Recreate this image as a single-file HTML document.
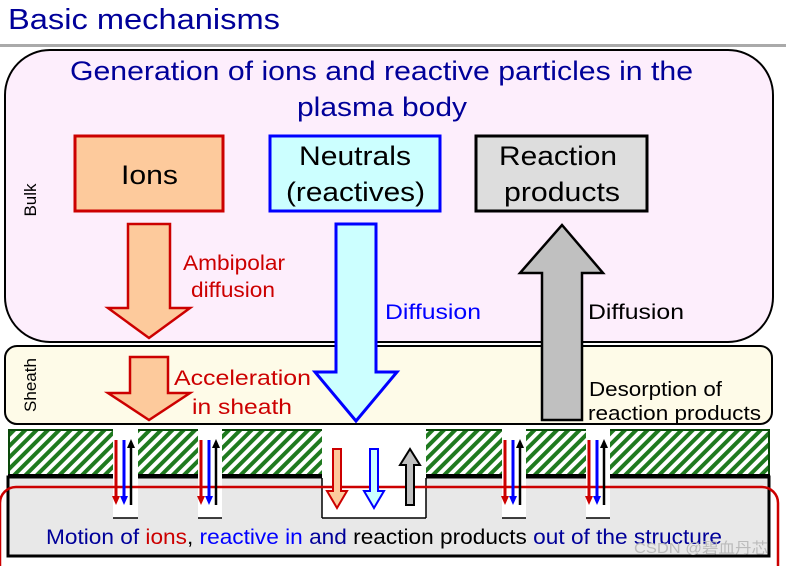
<!DOCTYPE html>
<html><head><meta charset="utf-8"><style>
html,body{margin:0;padding:0;background:#fff;}
svg{display:block;font-family:"Liberation Sans",Arial,sans-serif;}
</style></head><body>
<svg width="786" height="566" viewBox="0 0 786 566" xmlns="http://www.w3.org/2000/svg">
<defs>
<pattern id="h" patternUnits="userSpaceOnUse" width="8" height="8" patternTransform="rotate(45)">
<rect width="8" height="8" fill="#fff"/><rect width="4" height="8" fill="#1f7a1f"/>
</pattern>
</defs>
<text x="8" y="29" font-size="29" fill="#000099" textLength="272" lengthAdjust="spacingAndGlyphs">Basic mechanisms</text>
<rect x="0" y="44" width="786" height="3" fill="#aaa"/>
<rect x="5" y="50" width="768" height="292" rx="45" fill="#fdeefc" stroke="#000" stroke-width="2"/>
<g font-size="27" fill="#000099">
<text x="70" y="80" textLength="623" lengthAdjust="spacingAndGlyphs">Generation of ions and reactive particles in the</text>
<text x="297" y="116" textLength="170" lengthAdjust="spacingAndGlyphs">plasma body</text>
</g>
<text transform="translate(36,200) rotate(-90)" font-size="17" text-anchor="middle">Bulk</text>
<rect x="5" y="346" width="767" height="78" rx="12" fill="#fefbe8" stroke="#000" stroke-width="2"/>
<text transform="translate(36,385) rotate(-90)" font-size="17" text-anchor="middle">Sheath</text>

<rect x="75" y="136" width="148" height="75" fill="#fdca9c" stroke="#cc0000" stroke-width="3"/>
<rect x="270" y="136" width="170" height="75" fill="#ccffff" stroke="#0000ff" stroke-width="3"/>
<rect x="476" y="136" width="171" height="75" fill="#dddddd" stroke="#000" stroke-width="3"/>
<g font-size="27">
<text x="121" y="184" textLength="57" lengthAdjust="spacingAndGlyphs">Ions</text>
<text x="299" y="165" textLength="112" lengthAdjust="spacingAndGlyphs">Neutrals</text>
<text x="286" y="201" textLength="139" lengthAdjust="spacingAndGlyphs">(reactives)</text>
<text x="499" y="165" textLength="118" lengthAdjust="spacingAndGlyphs">Reaction</text>
<text x="504" y="201" textLength="116" lengthAdjust="spacingAndGlyphs">products</text>
</g>

<polygon points="128,224 170,224 170,308 190,308 149,338 108,308 128,308" fill="#fdca9c" stroke="#cc0000" stroke-width="2.5"/>
<polygon points="130,357 168,357 168,393 190,393 149,420 108,393 130,393" fill="#fdca9c" stroke="#cc0000" stroke-width="2.5"/>
<polygon points="336,224 376,224 376,372 397,372 356,421 315,372 336,372" fill="#ccffff" stroke="#0000ff" stroke-width="3"/>
<polygon points="542,420 582,420 582,273 603,273 562,225 520,273 542,273" fill="#c0c0c0" stroke="#000" stroke-width="2.5"/>

<g font-size="21" fill="#cc0000">
<text x="183" y="270" textLength="102" lengthAdjust="spacingAndGlyphs">Ambipolar</text>
<text x="191" y="297" textLength="84" lengthAdjust="spacingAndGlyphs">diffusion</text>
<text x="174" y="385" textLength="137" lengthAdjust="spacingAndGlyphs">Acceleration</text>
<text x="192" y="414" textLength="100" lengthAdjust="spacingAndGlyphs">in sheath</text>
</g>
<text x="385" y="319" font-size="21" fill="#0000ff" textLength="96" lengthAdjust="spacingAndGlyphs">Diffusion</text>
<text x="588" y="319" font-size="21" textLength="96" lengthAdjust="spacingAndGlyphs">Diffusion</text>
<text x="589" y="396" font-size="20" textLength="133" lengthAdjust="spacingAndGlyphs">Desorption of</text>
<text x="588" y="420" font-size="20" textLength="173" lengthAdjust="spacingAndGlyphs">reaction products</text>

<rect x="8" y="477" width="761" height="79" fill="#e8e8e8" stroke="#000" stroke-width="3"/>
<rect x="9" y="430" width="760" height="45" fill="url(#h)" stroke="#0a4a0a" stroke-width="2"/>
<rect x="8" y="474" width="762" height="4" fill="#000"/>
<g fill="#fff">
<rect x="113" y="428" width="25" height="90"/><rect x="198" y="428" width="24" height="90"/>
<rect x="322" y="428" width="104" height="90"/><rect x="502" y="428" width="24" height="90"/>
<rect x="586" y="428" width="24" height="90"/>
</g>
<g stroke="#000" stroke-width="1.5">
<line x1="113" y1="518" x2="138" y2="518"/><line x1="198" y1="518" x2="222" y2="518"/>
<line x1="322" y1="518" x2="426" y2="518"/><line x1="322" y1="518" x2="322" y2="478"/><line x1="426" y1="518" x2="426" y2="478"/>
<line x1="502" y1="518" x2="526" y2="518"/><line x1="586" y1="518" x2="610" y2="518"/>
</g>
<rect x="0" y="487" width="778" height="100" rx="16" fill="none" stroke="#cc0000" stroke-width="2.5"/>

<g id="sm">
<line x1="116" y1="440" x2="116" y2="497" stroke="#cc0000" stroke-width="3"/><polygon points="112,496 120,496 116,505" fill="#cc0000"/>
<line x1="124" y1="440" x2="124" y2="497" stroke="#0000ff" stroke-width="3"/><polygon points="120,496 128,496 124,505" fill="#0000ff"/>
<line x1="131" y1="447" x2="131" y2="505" stroke="#000" stroke-width="2.5"/><polygon points="127,448 135,448 131,439" fill="#000"/>
</g>
<use href="#sm" x="85"/><use href="#sm" x="389"/><use href="#sm" x="473"/>

<polygon points="333,449 341,449 341,491 347,491 337,508 327,491 333,491" fill="#fdca9c" stroke="#cc0000" stroke-width="2"/>
<polygon points="370,449 378,449 378,491 384,491 374,508 364,491 370,491" fill="#ccffff" stroke="#0000ff" stroke-width="2"/>
<polygon points="406,505 414,505 414,465 420,465 410,449 400,465 406,465" fill="#c0c0c0" stroke="#000" stroke-width="2"/>

<text x="46" y="544" font-size="21" textLength="676" lengthAdjust="spacingAndGlyphs"><tspan fill="#000099">Motion of </tspan><tspan fill="#cc0000">ions</tspan><tspan fill="#000">, </tspan><tspan fill="#0000ff">reactive in</tspan><tspan fill="#000099"> and </tspan><tspan fill="#000">reaction products </tspan><tspan fill="#000099">out of the structure</tspan></text>
<text x="634" y="553" font-size="15" fill="#bbb" textLength="134" lengthAdjust="spacingAndGlyphs" font-family="Liberation Sans,Noto Sans CJK SC,sans-serif">CSDN @碧血丹芯</text>
</svg>
</body></html>
